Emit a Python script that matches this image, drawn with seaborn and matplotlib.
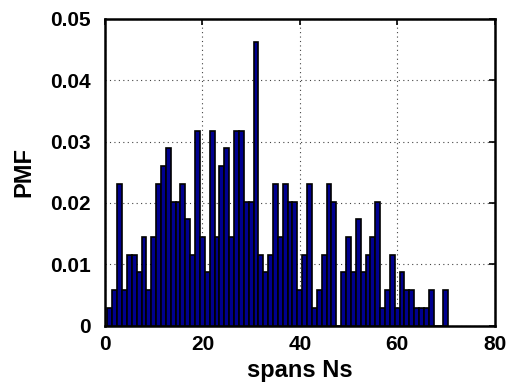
import numpy as np
import pandas as pd
import matplotlib
matplotlib.use("Agg")
import matplotlib.pyplot as plt
import seaborn as sns

# Number of spans Ns observed and how many times each occurred
spans = list(range(1, 71))
counts = [1, 2, 8, 2, 4, 4, 3, 5, 2, 5,
          8, 9, 10, 7, 7, 8, 6, 4, 11, 5,
          3, 11, 5, 9, 10, 5, 11, 11, 7, 7,
          16, 4, 3, 4, 8, 5, 8, 7, 7, 2,
          4, 8, 1, 2, 4, 8, 7, 0, 3, 5,
          3, 6, 3, 4, 5, 7, 1, 2, 4, 1,
          3, 2, 2, 1, 1, 1, 2, 0, 0, 2]

x_ticks = [0, 20, 40, 60, 80]
y_ticks = [0, 0.01, 0.02, 0.03, 0.04, 0.05]
y_tick_labels = ["0", "0.01", "0.02", "0.03", "0.04", "0.05"]

df = pd.DataFrame({"spans": spans, "count": counts})
df["pmf"] = df["count"] / df["count"].sum()
df = df[df["count"] > 0]

sns.set_style("white")
plt.rcParams["font.family"] = ["Liberation Sans", "DejaVu Sans"]
plt.rcParams["font.weight"] = "bold"
plt.rcParams["text.color"] = "black"
plt.rcParams["axes.labelcolor"] = "black"

fig = plt.figure(figsize=(5.16, 3.85), dpi=100)
ax = fig.add_axes([0.2035, 0.154, 0.755, 0.797])

sns.histplot(data=df, x="spans", weights="pmf", discrete=True, stat="count",
             color="#00008f", edgecolor="black", linewidth=1.2, alpha=1.0,
             ax=ax, zorder=3)

ax.set_xlim(0, 80)
ax.set_ylim(0, 0.05)
ax.set_xticks(x_ticks)
ax.set_yticks(y_ticks)
ax.set_xticklabels([str(t) for t in x_ticks])
ax.set_yticklabels(y_tick_labels)

ax.grid(True, linestyle=(0, (1, 3)), color="#444444", linewidth=0.8, zorder=0)
ax.set_axisbelow(True)

for s in ax.spines.values():
    s.set_visible(True)
    s.set_linewidth(1.8)
    s.set_color("black")

ax.tick_params(axis="both", which="both", direction="in", length=4, width=1.2,
               top=True, right=True, labelsize=15, colors="black")
ax.tick_params(axis="x", pad=7)
ax.tick_params(axis="y", pad=10)
for lab in ax.get_xticklabels() + ax.get_yticklabels():
    lab.set_fontweight("bold")

ax.set_xlabel("spans Ns", fontsize=17, fontweight="bold", labelpad=3, color="black")
ax.set_ylabel("PMF", fontsize=17, fontweight="bold", labelpad=11, color="black")

fig.savefig("out.png", dpi=100, facecolor="white")
